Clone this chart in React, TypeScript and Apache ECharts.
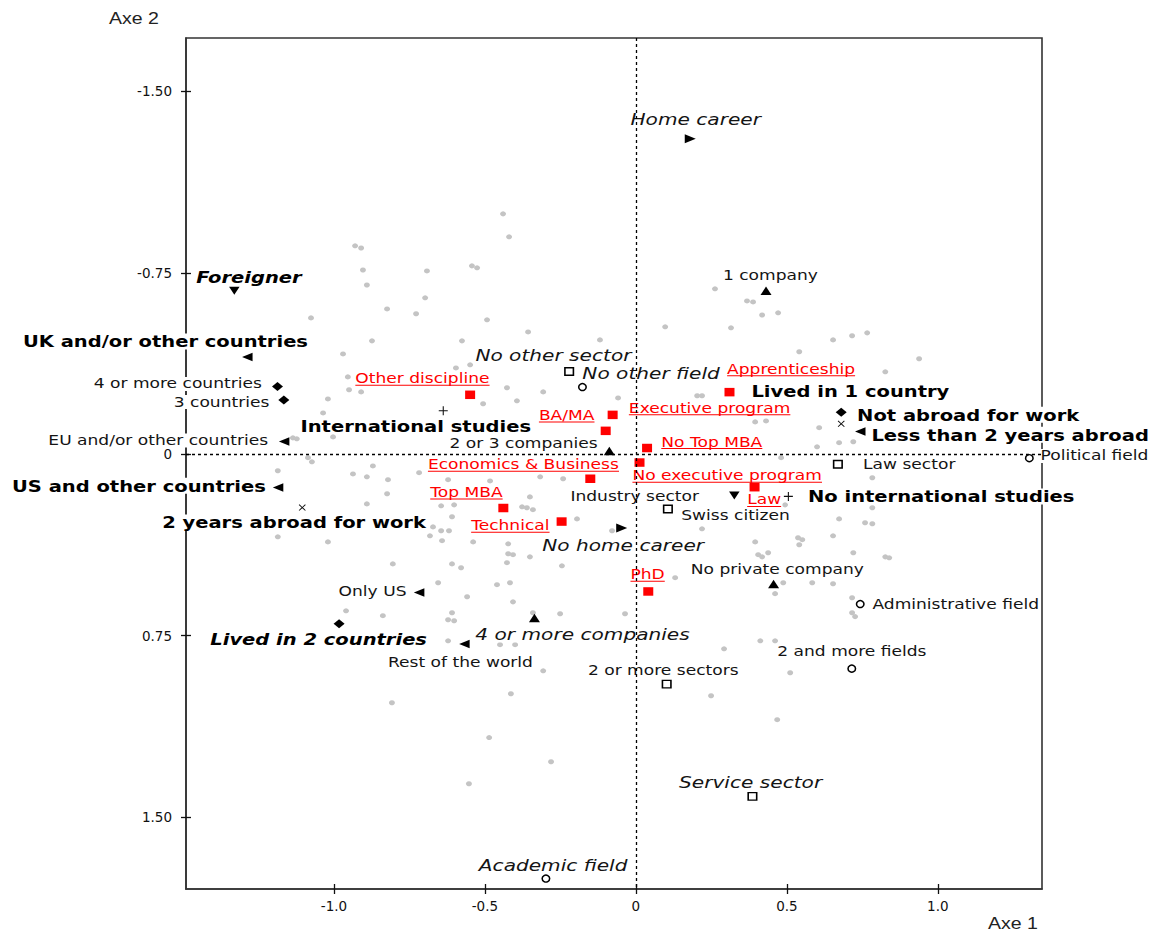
import React, { useEffect, useRef } from 'react';
import * as echarts from 'echarts';

// Correspondence analysis map: modalities as [label, axis 1, axis 2]
type Modality = [string, number, number];

const careerPoints: Modality[] = [
  ['Home career', 0.18, -1.304],
  ['No home career', -0.047, 0.305],
];

const companyPoints: Modality[] = [
  ['1 company', 0.431, -0.676],
  ['2 or 3 companies', -0.088, -0.014],
  ['4 or more companies', -0.336, 0.677],
  ['No private company', 0.456, 0.536],
];

const nationalityPoints: Modality[] = [
  ['Foreigner', -1.33, -0.676],
  ['Swiss citizen', 0.326, 0.17],
];

const studyAbroadPoints: Modality[] = [
  ['UK and/or other countries', -1.287, -0.402],
  ['EU and/or other countries', -1.165, -0.053],
  ['US and other countries', -1.185, 0.137],
  ['Only US', -0.718, 0.571],
  ['Rest of the world', -0.568, 0.784],
  ['Less than 2 years abroad', 0.743, -0.094],
];

const countriesLivedPoints: Modality[] = [
  ['4 or more countries', -1.187, -0.28],
  ['3 countries', -1.166, -0.224],
  ['Lived in 2 countries', -0.983, 0.7],
  ['Lived in 1 country', 0.68, -0.174],
];

const workAbroadPoints: Modality[] = [
  ['2 years abroad for work', -1.105, 0.22],
  ['Not abroad for work', 0.68, -0.126],
];

const intlStudiesPoints: Modality[] = [
  ['International studies', -0.638, -0.18],
  ['No international studies', 0.505, 0.174],
];

const sectorPoints: Modality[] = [
  ['No other sector', -0.221, -0.342],
  ['Industry sector', 0.106, 0.226],
  ['Law sector', 0.669, 0.041],
  ['2 or more sectors', 0.102, 0.95],
  ['Service sector', 0.386, 1.414],
];

const fieldPoints: Modality[] = [
  ['No other field', -0.177, -0.278],
  ['Political field', 1.303, 0.016],
  ['Administrative field', 0.743, 0.619],
  ['2 and more fields', 0.715, 0.886],
  ['Academic field', -0.298, 1.754],
];

const educationPoints: Modality[] = [
  ['Other discipline', -0.549, -0.246],
  ['Apprenticeship', 0.31, -0.257],
  ['Executive program', -0.077, -0.163],
  ['BA/MA', -0.1, -0.097],
  ['No Top MBA', 0.037, -0.026],
  ['No executive program', 0.012, 0.034],
  ['Economics & Business', -0.151, 0.101],
  ['Top MBA', -0.439, 0.222],
  ['Technical', -0.246, 0.278],
  ['Law', 0.393, 0.136],
  ['PhD', 0.041, 0.567],
];

// Individuals (supplementary cloud)
const individuals: [number, number][] = [
  [-0.93, -0.862], [-0.91, -0.853], [-0.904, -0.762], [-0.692, -0.758], [-0.891, -0.7],
  [-0.698, -0.647], [-0.824, -0.601], [-0.728, -0.581], [-1.076, -0.564], [-0.543, -0.779],
  [-0.526, -0.771], [-0.44, -0.994], [-0.42, -0.899], [-0.493, -0.556], [0.262, -0.684],
  [0.368, -0.634], [0.388, -0.63], [0.418, -0.576], [0.471, -0.585], [0.097, -0.527],
  [0.315, -0.523],
  [-0.874, -0.469], [-0.576, -0.469], [-0.97, -0.415], [-0.549, -0.37], [-0.596, -0.357],
  [-0.954, -0.32], [-0.95, -0.267], [-0.91, -0.258], [-1.02, -0.229], [-1.036, -0.171],
  [-1.136, -0.068], [-1.123, -0.064], [-1.003, -0.072], [-1.086, 0.014], [-1.073, 0.031],
  [-1.186, 0.068], [-0.871, 0.048], [-0.937, 0.081], [-0.891, 0.093], [-0.821, 0.105],
  [-0.718, 0.076], [-0.622, 0.105], [-0.824, 0.163], [-0.891, 0.205], [-0.645, 0.213],
  [-0.602, 0.209], [-0.609, 0.258], [-0.672, 0.3], [-0.645, 0.316], [-0.619, 0.316],
  [-0.682, 0.337], [-0.642, 0.357], [-1.186, 0.341], [-1.02, 0.362], [-0.805, 0.453],
  [-0.609, 0.453], [-0.579, 0.469], [-0.655, 0.531], [-0.559, 0.589], [-0.96, 0.647],
  [-0.609, 0.655], [-0.539, 0.362],
  [-0.357, -0.506], [-0.119, -0.473], [-0.427, -0.275], [-0.394, -0.221], [-0.307, -0.258],
  [-0.506, -0.209], [-0.059, -0.233], [0.203, -0.242], [0.219, -0.242], [0.395, -0.134],
  [0.431, -0.138], [0.107, 0.072], [-0.317, 0.093], [-0.241, 0.101], [-0.483, 0.11],
  [-0.377, 0.217], [-0.361, 0.221], [-0.341, 0.229], [-0.351, 0.176], [-0.195, 0.267],
  [-0.079, 0.316], [0.219, 0.308], [0.395, 0.362], [0.405, 0.415], [0.418, 0.424],
  [-0.423, 0.37], [-0.423, 0.411], [-0.407, 0.415], [-0.427, 0.448], [-0.351, 0.424],
  [-0.245, 0.461], [0.13, 0.51], [-0.46, 0.539], [-0.417, 0.531], [-0.407, 0.61],
  [-0.341, 0.655], [0.385, 0.238],
  [0.653, -0.473], [0.716, -0.49], [0.766, -0.502], [0.541, -0.424], [0.938, -0.395],
  [0.826, -0.341], [0.607, -0.11], [0.673, -0.048], [0.72, -0.052], [0.6, -0.031],
  [0.481, 0.014], [0.783, 0.097], [0.494, 0.209], [0.783, 0.221], [0.673, 0.267],
  [0.759, 0.283], [0.783, 0.287], [0.653, 0.337], [0.537, 0.345], [0.551, 0.353],
  [0.541, 0.374], [0.438, 0.407], [0.72, 0.407], [0.826, 0.424], [0.839, 0.428],
  [0.488, 0.531], [0.584, 0.531], [0.653, 0.535], [0.461, 0.576], [0.716, 0.593],
  [0.716, 0.655], [0.726, 0.671], [0.461, 0.771], [0.511, 0.903], [0.468, 1.097],
  [-0.838, 0.667], [-0.622, 0.684], [-0.602, 0.688], [-0.622, 0.771], [-0.808, 1.027],
  [-0.553, 1.362],
  [-0.251, 0.659], [-0.036, 0.659], [-0.45, 0.787], [-0.4, 0.787], [-0.307, 0.895],
  [-0.414, 0.99], [-0.486, 1.171], [-0.281, 1.271], [0.292, 0.804], [0.412, 0.771],
  [0.249, 0.998],
];

const xTicks = [-1, -0.5, 0, 0.5, 1];
const yTicks = [-1.5, -0.75, 0, 0.75, 1.5];

// ---- styling -------------------------------------------------------------

type FontKind = 'plain' | 'bold' | 'italic' | 'boldItalic' | 'red';

const FONT_KINDS: Record<FontKind, { size: number; weight: string; style: string; color: string; underline?: boolean }> = {
  plain: { size: 14, weight: 'normal', style: 'normal', color: '#141414' },
  bold: { size: 16, weight: 'bold', style: 'normal', color: '#000' },
  italic: { size: 16.5, weight: 'normal', style: 'italic', color: '#141414' },
  boldItalic: { size: 16, weight: 'bold', style: 'italic', color: '#000' },
  red: { size: 14, weight: 'normal', style: 'normal', color: '#ff0000', underline: true },
};

const LABEL_FONT = 'DejaVu Sans';
const TEXT_STRETCH = 1.22;

// label placement relative to its marker (pixels, left edge / vertical middle)
const labelLayout: Record<string, { dx: number; dy: number; kind: FontKind }> = {
  'Home career': { dx: -61, dy: -20, kind: 'italic' },
  'No home career': { dx: -80.7, dy: 16.7, kind: 'italic' },
  '1 company': { dx: -44.3, dy: -15.7, kind: 'plain' },
  '2 or 3 companies': { dx: -161, dy: -7, kind: 'plain' },
  '4 or more companies': { dx: -60.3, dy: 15.7, kind: 'italic' },
  'No private company': { dx: -84, dy: -14.3, kind: 'plain' },
  'Foreigner': { dx: -39.3, dy: -14, kind: 'boldItalic' },
  'Swiss citizen': { dx: -54.3, dy: 20.3, kind: 'plain' },
  'UK and/or other countries': { dx: -225.6, dy: -15.6, kind: 'bold' },
  'EU and/or other countries': { dx: -237, dy: -1, kind: 'plain' },
  'US and other countries': { dx: -267.3, dy: -1.7, kind: 'bold' },
  'Only US': { dx: -81.7, dy: -1, kind: 'plain' },
  'Rest of the world': { dx: -77.6, dy: 18.4, kind: 'plain' },
  'Less than 2 years abroad': { dx: 10, dy: 3.3, kind: 'bold' },
  '4 or more countries': { dx: -185, dy: -2.7, kind: 'plain' },
  '3 countries': { dx: -111.3, dy: 2, kind: 'plain' },
  'Lived in 2 countries': { dx: -130, dy: 16, kind: 'boldItalic' },
  'Lived in 1 country': { dx: -91, dy: -20.6, kind: 'bold' },
  '2 years abroad for work': { dx: -141.3, dy: 15, kind: 'bold' },
  'Not abroad for work': { dx: 14.7, dy: -9, kind: 'bold' },
  'International studies': { dx: -144, dy: 15, kind: 'bold' },
  'No international studies': { dx: 18.4, dy: 0, kind: 'bold' },
  'No other sector': { dx: -95, dy: -16, kind: 'italic' },
  'Industry sector': { dx: -98.7, dy: -12.6, kind: 'plain' },
  'Law sector': { dx: 24, dy: 0.7, kind: 'plain' },
  '2 or more sectors': { dx: -80, dy: -13.6, kind: 'plain' },
  'Service sector': { dx: -74.6, dy: -14.4, kind: 'italic' },
  'No other field': { dx: -1.3, dy: -13.6, kind: 'italic' },
  'Political field': { dx: 10, dy: -2.3, kind: 'plain' },
  'Administrative field': { dx: 11, dy: 0.7, kind: 'plain' },
  '2 and more fields': { dx: -75.7, dy: -17.3, kind: 'plain' },
  'Academic field': { dx: -68.3, dy: -13.3, kind: 'italic' },
  'Other discipline': { dx: -116, dy: -16, kind: 'red' },
  'Apprenticeship': { dx: -3.6, dy: -23, kind: 'red' },
  'Executive program': { dx: 15, dy: -6.7, kind: 'red' },
  'BA/MA': { dx: -68, dy: -15.3, kind: 'red' },
  'No Top MBA': { dx: 13, dy: -6, kind: 'red' },
  'No executive program': { dx: -8.3, dy: 13.3, kind: 'red' },
  'Economics & Business': { dx: -163.6, dy: -14, kind: 'red' },
  'Top MBA': { dx: -74.3, dy: -15.6, kind: 'red' },
  'Technical': { dx: -91.7, dy: 4.3, kind: 'red' },
  'Law': { dx: -8.6, dy: 12.7, kind: 'red' },
  'PhD': { dx: -19, dy: -16.7, kind: 'red' },
};

const PLUS_PATH = 'path://M0,4.4H10V5.6H0Z M4.4,0H5.6V10H4.4Z';
const CROSS_PATH = 'path://M1,0L5,4L9,0L10,1L6,5L10,9L9,10L5,6L1,10L0,9L4,5L0,1Z';

const markerGroups: {
  name: string;
  points: Modality[];
  symbol: string;
  size: [number, number];
  rotate: number;
  fill: string;
  border?: string;
}[] = [
  { name: 'Career', points: careerPoints, symbol: 'triangle', size: [9, 11], rotate: -90, fill: '#000' },
  { name: 'Companies', points: companyPoints, symbol: 'triangle', size: [11, 8.5], rotate: 0, fill: '#000' },
  { name: 'Nationality', points: nationalityPoints, symbol: 'triangle', size: [10.5, 8], rotate: 180, fill: '#000' },
  { name: 'Studies abroad', points: studyAbroadPoints, symbol: 'triangle', size: [8.5, 10.5], rotate: 90, fill: '#000' },
  { name: 'Countries lived in', points: countriesLivedPoints, symbol: 'diamond', size: [11, 9], rotate: 0, fill: '#000' },
  { name: 'Work abroad', points: workAbroadPoints, symbol: CROSS_PATH, size: [7, 6.5], rotate: 0, fill: '#111' },
  { name: 'International studies', points: intlStudiesPoints, symbol: PLUS_PATH, size: [9, 9], rotate: 0, fill: '#111' },
  { name: 'Sectors', points: sectorPoints, symbol: 'rect', size: [8.5, 7.5], rotate: 0, fill: '#fff', border: '#000' },
  { name: 'Fields', points: fieldPoints, symbol: 'circle', size: [7.5, 7], rotate: 0, fill: '#fff', border: '#000' },
  { name: 'Education', points: educationPoints, symbol: 'rect', size: [10, 8.5], rotate: 0, fill: '#ff0000' },
];

const allModalities: Modality[] = markerGroups.flatMap((g) => g.points);

let measureCtx: CanvasRenderingContext2D | null = null;
function textWidth(text: string, font: string): number {
  if (!measureCtx) measureCtx = document.createElement('canvas').getContext('2d');
  if (!measureCtx) return text.length * 8;
  measureCtx.font = font;
  return measureCtx.measureText(text).width;
}

const axisLabelFmt = (digits: number) => (v: number) => (v === 0 ? '0' : v.toFixed(digits));

export default function App() {
  const ref = useRef<HTMLDivElement>(null);

  useEffect(() => {
    if (!ref.current) return;
    const chart = echarts.init(ref.current, undefined, { renderer: 'svg' });

    const xRange = { min: -1.49, max: 1.345 };
    const yRange = { min: -1.721, max: 1.797 };
    const tickStyle = { color: '#111', width: 1.3 };
    const axisLineStyle = { color: '#333', width: 1.6 };
    const tickFont = { fontFamily: LABEL_FONT, fontSize: 13.5, color: '#111' };

    const option: any = {
      animation: false,
      backgroundColor: '#fff',
      grid: {
        left: 186, top: 38, width: 856, height: 851,
        show: true, borderColor: '#333', borderWidth: 1.6, backgroundColor: 'transparent',
      },
      xAxis: [
        {
          type: 'value', ...xRange, position: 'bottom',
          splitLine: { show: false },
          axisLine: { show: true, onZero: false, lineStyle: axisLineStyle },
          axisTick: { show: true, length: 5, customValues: xTicks, lineStyle: tickStyle },
          axisLabel: { customValues: xTicks, formatter: axisLabelFmt(1), margin: 10, ...tickFont },
        },
        {
          type: 'value', ...xRange, position: 'bottom',
          splitLine: { show: false },
          axisLine: { show: false, onZero: false },
          axisTick: { show: true, inside: true, length: 5, customValues: xTicks, lineStyle: tickStyle },
          axisLabel: { show: false },
        },
      ],
      yAxis: [
        {
          type: 'value', ...yRange, inverse: true, position: 'left',
          splitLine: { show: false },
          axisLine: { show: true, onZero: false, lineStyle: axisLineStyle },
          axisTick: { show: true, length: 5, customValues: yTicks, lineStyle: tickStyle },
          axisLabel: { customValues: yTicks, formatter: axisLabelFmt(2), margin: 14, ...tickFont },
        },
        {
          type: 'value', ...yRange, inverse: true, position: 'left',
          splitLine: { show: false },
          axisLine: { show: false, onZero: false },
          axisTick: { show: true, inside: true, length: 5, customValues: yTicks, lineStyle: tickStyle },
          axisLabel: { show: false },
        },
      ],
      graphic: [
        {
          type: 'text', x: 109, y: 19, scaleX: TEXT_STRETCH,
          style: { text: 'Axe 2', fontFamily: 'Liberation Sans', fontSize: 16, fill: '#222', verticalAlign: 'middle' },
        },
        {
          type: 'text', x: 988, y: 924, scaleX: TEXT_STRETCH,
          style: { text: 'Axe 1', fontFamily: 'Liberation Sans', fontSize: 16, fill: '#222', verticalAlign: 'middle' },
        },
      ],
      series: [
        {
          name: 'Individuals',
          type: 'scatter',
          z: 2,
          silent: true,
          symbol: 'circle',
          symbolSize: [6, 5],
          itemStyle: { color: '#c4c4c4', opacity: 1 },
          data: individuals,
          markLine: {
            silent: true,
            symbol: ['none', 'none'],
            label: { show: false },
            lineStyle: { color: '#000', type: [3, 3], width: 1.3, opacity: 1 },
            data: [{ xAxis: 0 }, { yAxis: 0 }],
          },
        },
        {
          name: 'Labels',
          type: 'custom',
          z: 3,
          silent: true,
          clip: false,
          coordinateSystem: 'cartesian2d',
          encode: { x: 0, y: 1 },
          data: allModalities.map((m) => [m[1], m[2]]),
          renderItem: (params: any, api: any) => {
            const name = allModalities[params.dataIndex][0];
            const lay = labelLayout[name];
            const kind = FONT_KINDS[lay.kind];
            const c = api.coord([api.value(0), api.value(1)]);
            const font = `${kind.style} ${kind.weight} ${kind.size}px "${LABEL_FONT}"`;
            const children: any[] = [
              {
                type: 'text',
                x: 0,
                y: 0,
                style: {
                  text: name,
                  fill: kind.color,
                  fontSize: kind.size,
                  fontWeight: kind.weight,
                  fontStyle: kind.style,
                  fontFamily: LABEL_FONT,
                  align: 'left',
                  verticalAlign: 'middle',
                  backgroundColor: '#fff',
                  padding: [0, 1],
                },
              },
            ];
            if (kind.underline) {
              children.push({
                type: 'rect',
                shape: { x: 1, y: 6, width: textWidth(name, font), height: 1 },
                style: { fill: kind.color },
              });
            }
            return {
              type: 'group',
              x: c[0] + lay.dx,
              y: c[1] + lay.dy,
              scaleX: TEXT_STRETCH,
              children,
            };
          },
        },
        ...markerGroups.map((g) => ({
          name: g.name,
          type: 'scatter',
          z: 4,
          silent: true,
          symbol: g.symbol,
          symbolSize: g.size,
          symbolRotate: g.rotate,
          itemStyle: {
            color: g.fill,
            opacity: 1,
            borderColor: g.border ?? g.fill,
            borderWidth: g.border ? 1.5 : 0,
          },
          data: g.points.map((p) => ({ name: p[0], value: [p[1], p[2]] })),
        })),
      ],
    };

    chart.setOption(option);
    return () => chart.dispose();
  }, []);

  return (
    <div
      ref={ref}
      style={{ position: 'absolute', left: 0, top: 0, width: 1154, height: 934, background: '#fff' }}
    />
  );
}
